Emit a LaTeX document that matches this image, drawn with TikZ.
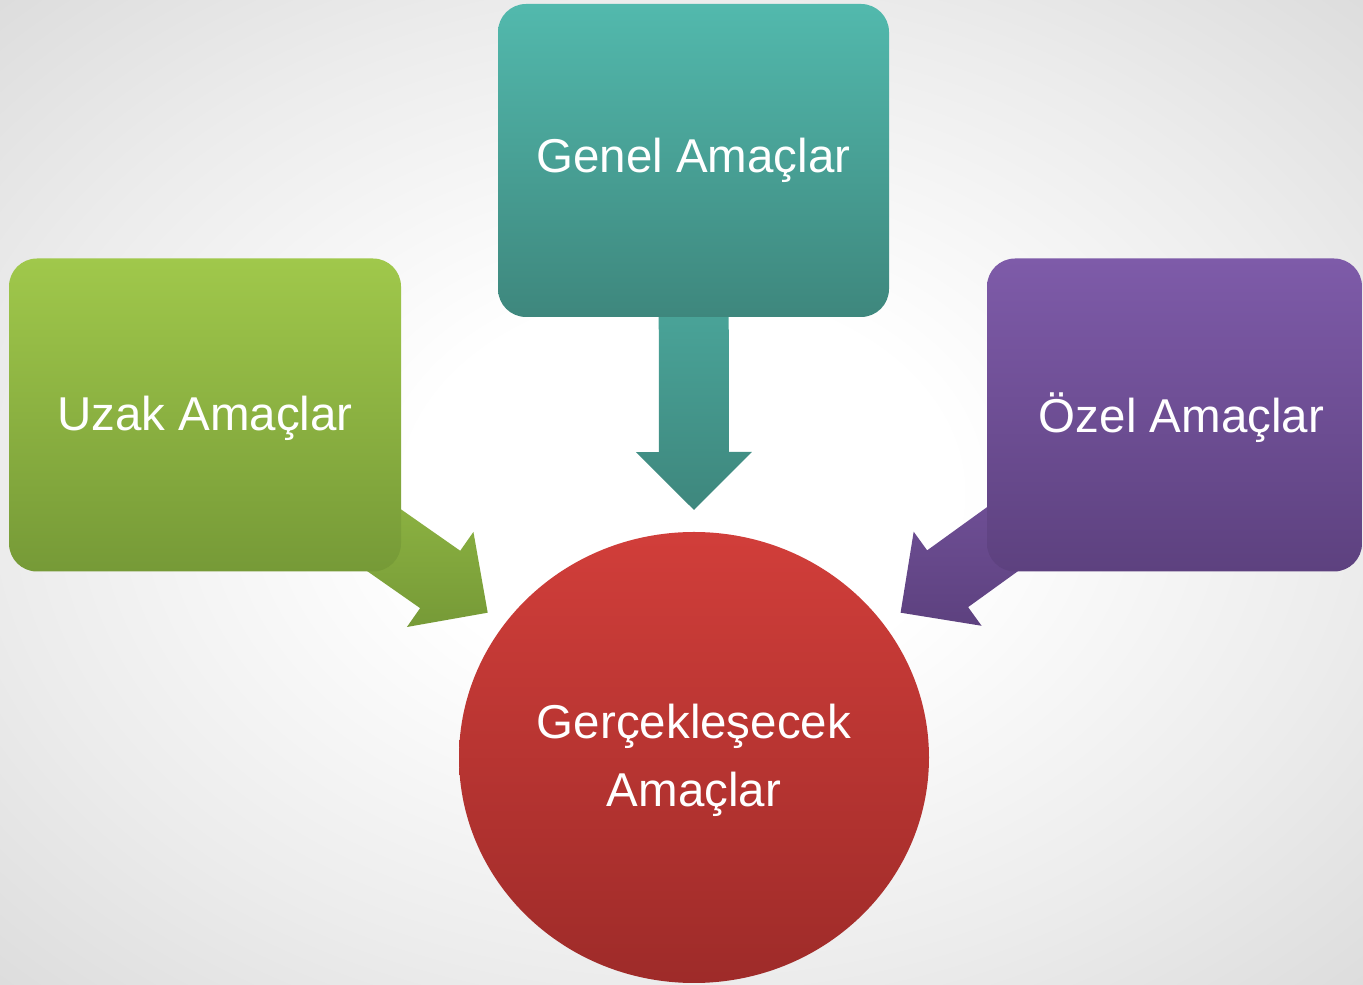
\documentclass[tikz,border=0pt]{standalone}
\usepackage{fontspec}
\setmainfont{Liberation Sans}
\usetikzlibrary{shapes.geometric,calc}
\definecolor{tealT}{HTML}{52B9AD}
\definecolor{tealB}{HTML}{3E877D}
\definecolor{greenT}{HTML}{A0C84B}
\definecolor{greenB}{HTML}{769A37}
\definecolor{purpT}{HTML}{7E5BA9}
\definecolor{purpB}{HTML}{5D417F}
\definecolor{redT}{HTML}{D13E3A}
\definecolor{redB}{HTML}{9E2B29}
\definecolor{bgmid}{HTML}{ECECEC}
\definecolor{bgedge}{HTML}{DCDCDC}
\pgfdeclareradialshading{bgshade}{\pgfpoint{0bp}{0bp}}{color(0bp)=(white); color(10bp)=(white); color(25bp)=(bgmid); color(36bp)=(bgedge); color(50bp)=(bgedge)}
\pgfdeclarelayer{bglayer}
\pgfdeclarelayer{arrowlayer}
\pgfsetlayers{bglayer,arrowlayer,main}
\newcommand{\blockarrow}[3]{% #1 start node, #2 tip coordinate, #3 colour style
  \path[#3]
    (#2)
    -- ($($(#2)!58pt!(#1)$)!58pt!90:(#2)$)
    -- ($($(#2)!58pt!(#1)$)!35pt!90:(#2)$)
    -- ($(#1.center)!35pt!90:(#2)$)
    -- ($(#1.center)!35pt!-90:(#2)$)
    -- ($($(#2)!58pt!(#1)$)!35pt!-90:(#2)$)
    -- ($($(#2)!58pt!(#1)$)!58pt!-90:(#2)$)
    -- cycle;}
\newcommand{\lowerby}[1]{\raisebox{-3pt}[\height][\depth]{#1}}
\begin{document}
\begin{tikzpicture}[x=1pt,y=1pt,
  txt/.style={text=white, font=\fontsize{47.5}{68.5}\selectfont, align=center},
  box/.style={txt, rounded corners=28pt, minimum height=313pt, inner sep=0pt},
  tealfill/.style={top color=tealT, bottom color=tealB},
  greenfill/.style={top color=greenT, bottom color=greenB},
  purpfill/.style={top color=purpT, bottom color=purpB},
  redfill/.style={top color=redT, bottom color=redB}]
\begin{pgfonlayer}{bglayer}
\path[shading=bgshade] (0,0) rectangle (1363,985);
\end{pgfonlayer}
\useasboundingbox (0,0) rectangle (1363,985);

\node[box, tealfill, minimum width=391pt] (genel) at (693.5,824.5) {Genel Amaçlar};
\node[box, greenfill, minimum width=392pt] (uzak) at (205,570) {\lowerby{Uzak Amaçlar}};
\node[box, purpfill, minimum width=375pt] (ozel) at (1174.5,570) {\hspace*{14pt}\lowerby{Özel Amaçlar}};
\node[txt, ellipse, redfill, minimum width=470pt, minimum height=451pt, inner sep=0pt] (gercek) at (694,227.5) {\lowerby{Gerçekleşecek}\\\lowerby{Amaçlar}};

\coordinate (tipG) at (694,475);
\coordinate (tipU) at (487.7,372.3);
\coordinate (tipO) at (900.6,372.3);

\begin{pgfonlayer}{arrowlayer}
\blockarrow{genel}{tipG}{tealfill}
\blockarrow{uzak}{tipU}{greenfill}
\blockarrow{ozel}{tipO}{purpfill}
\end{pgfonlayer}
\end{tikzpicture}
\end{document}
